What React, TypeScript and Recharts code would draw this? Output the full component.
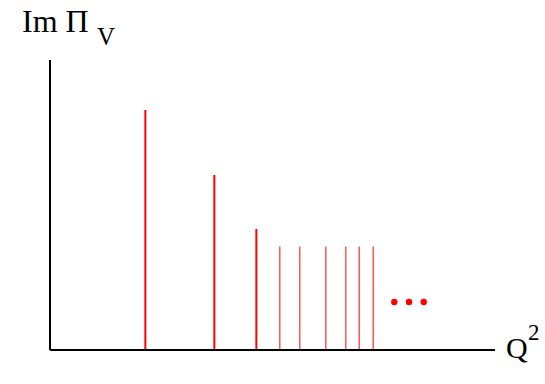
import { ComposedChart, Bar, Scatter, XAxis, YAxis } from 'recharts';

// Q^2 positions (arbitrary units) of each resonance line
const thickQ2 = [96, 165, 207];
const thickHeights = [240, 175, 121];
const thinQ2 = [229, 249, 275, 295, 308.3, 322.3];
const thinHeights = [103.5, 103.5, 103.5, 103.5, 103.5, 103.5];
const dotsQ2 = [344.3, 359, 373.7];
const dotsHeight = [48, 48, 48];

const thickData = thickQ2.map((q, i) => ({ q, thick: thickHeights[i] }));
const thinData = thinQ2.map((q, i) => ({ q, thin: thinHeights[i] }));
const dotData = dotsQ2.map((q, i) => ({ q, dot: dotsHeight[i] }));
const data = [...thickData, ...thinData].sort((a, b) => a.q - b.q);

const RED = '#ff0000';
const FONT = 'Times New Roman, serif';

const Dot = (props: any) => <circle cx={props.cx} cy={props.cy} r={3.2} fill={RED} />;

export default function App() {
  return (
    <div style={{ position: 'absolute', left: 0, top: 0, width: 545, height: 384, background: '#fff' }}>
      <ComposedChart
        width={545}
        height={384}
        data={data}
        margin={{ top: 60, right: 50, bottom: 33, left: 49 }}
        barGap={0}
      >
        <XAxis
          dataKey="q"
          type="number"
          domain={[0, 445]}
          height={1}
          tick={false}
          tickLine={false}
          axisLine={{ stroke: '#000', strokeWidth: 2 }}
        />
        <YAxis
          type="number"
          domain={[0, 290]}
          width={1}
          tick={false}
          tickLine={false}
          axisLine={{ stroke: '#000', strokeWidth: 2 }}
        />
        <Bar dataKey="thick" fill={RED} barSize={2} isAnimationActive={false} />
        <Bar dataKey="thin" fill={RED} barSize={1} isAnimationActive={false} />
        <Scatter data={dotData} dataKey="dot" fill={RED} shape={<Dot />} isAnimationActive={false} />
      </ComposedChart>
      <svg
        width={545}
        height={384}
        style={{ position: 'absolute', left: 0, top: 0, pointerEvents: 'none' }}
      >
        <text x={22} y={32} fontFamily={FONT} fontSize={32} fill="#000">
          Im Π
        </text>
        <text x={97} y={45} fontFamily={FONT} fontSize={25} fill="#000">
          V
        </text>
        <text x={506} y={358} fontFamily={FONT} fontSize={30} fill="#000">
          Q
        </text>
        <text x={528} y={340} fontFamily={FONT} fontSize={23} fill="#000">
          2
        </text>
      </svg>
    </div>
  );
}
